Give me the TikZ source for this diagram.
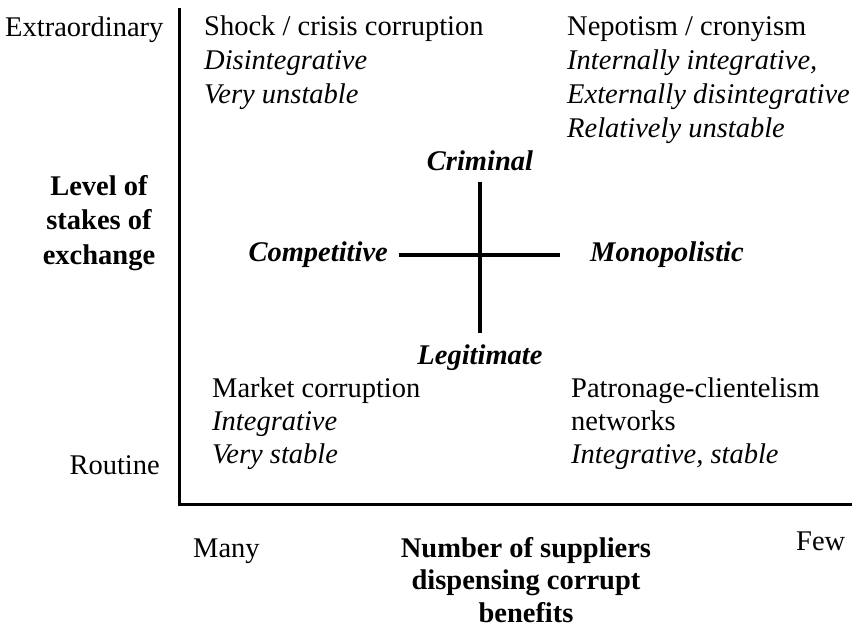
\documentclass[tikz,border=0pt]{standalone}
\usepackage{fontspec}
\setmainfont{Liberation Serif}
\usetikzlibrary{positioning}

\newcommand{\topstrut}{\rule{0pt}{21pt}}

\begin{document}
\begin{tikzpicture}[x=1pt, y=-1pt]
  \tikzstyle{txt}=[inner sep=0pt, font=\fontsize{28.5}{33.5}\selectfont]
  \tikzstyle{cell}=[txt, align=left, anchor=north west]
  \tikzstyle{axislabel}=[txt, align=center, anchor=north, font=\fontsize{28.5}{34.5}\selectfont\bfseries]
  \tikzstyle{pole}=[txt, font=\fontsize{28.5}{33.5}\selectfont\bfseries\itshape]
  \tikzstyle{axis}=[line width=3pt]
  \tikzstyle{cross}=[line width=4.5pt]

  \useasboundingbox (0,0) rectangle (852,628);

  % axes
  \coordinate (ytop) at (179,8);
  \coordinate (origin) at (179,504);
  \coordinate (xend) at (860,504);
  \draw[axis] (ytop) -- (origin) -- (xend);

  % cross in the middle
  \coordinate (crossN) at (480,182);
  \coordinate (crossS) at (480,333);
  \coordinate (crossW) at (399,255);
  \coordinate (crossE) at (560,255);
  \draw[cross] (crossN) -- (crossS);
  \draw[cross] (crossW) -- (crossE);

  \node (criminal) [pole, above=11pt of crossN] {Criminal};
  \node (legit) [pole, below=12pt of crossS] {Legitimate};
  \node (compet) [pole, left=11pt of crossW] {Competitive};
  \node (monop) [pole, right=30pt of crossE] {Monopolistic};

  % quadrants
  \node (shock) [cell, font=\fontsize{28.5}{34}\selectfont] at (204,14) {\topstrut Shock / crisis corruption\\
    \textit{Disintegrative}\\ \textit{Very unstable}};
  \node (nepotism) [cell, font=\fontsize{28.5}{34}\selectfont] at (567,14) {\topstrut Nepotism / cronyism\\
    \textit{Internally integrative,}\\ \textit{Externally disintegrative}\\
    \textit{Relatively unstable}};
  \node (market) [cell, font=\fontsize{28.5}{33}\selectfont] at (212,376) {\topstrut Market corruption\\
    \textit{Integrative}\\ \textit{Very stable}};
  \node (patronage) [cell, font=\fontsize{28.5}{33}\selectfont] at (571,376) {\topstrut Patronage-clientelism\\
    networks\\ \textit{Integrative, stable}};

  % vertical axis labels
  \node (extra) [txt, anchor=base west] at (5,37) {Extraordinary};
  \node (routine) [txt, anchor=base east] at (160,475) {Routine};
  \node (level) [axislabel] at (99,174) {\topstrut Level of\\ stakes of\\ exchange};

  % horizontal axis labels
  \node (many) [txt, anchor=base west] at (193,557) {Many};
  \node (few) [txt, anchor=base west] at (796,550) {Few};
  \node (number) [axislabel, font=\fontsize{28.5}{32.5}\selectfont\bfseries] at (526,536)
    {\topstrut Number of suppliers\\ dispensing corrupt\\ benefits};
\end{tikzpicture}
\end{document}
